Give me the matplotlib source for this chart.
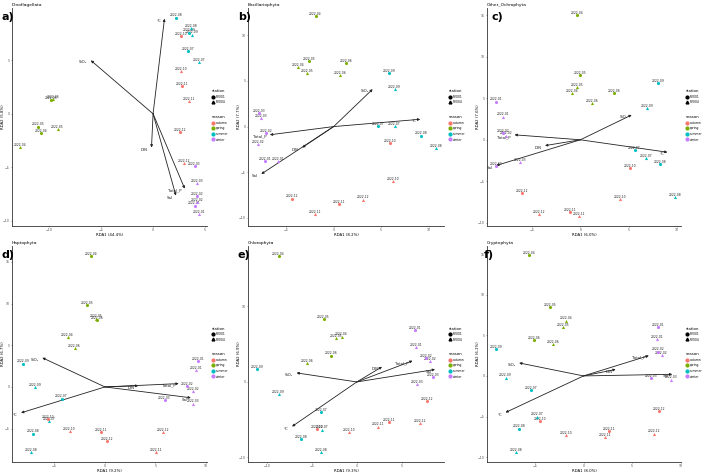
import matplotlib
matplotlib.use("Agg")
import matplotlib.pyplot as plt
from matplotlib.lines import Line2D

# samples: 12 months x 2 stations (RV001, RV004)
sample_labels = ["2022-01", "2022-01", "2022-02", "2022-02", "2022-03", "2022-03",
                 "2022-04", "2022-04", "2022-05", "2022-05", "2022-06", "2022-06",
                 "2022-07", "2022-07", "2022-08", "2022-08", "2022-09", "2022-09",
                 "2022-10", "2022-10", "2022-11", "2022-11", "2022-12", "2022-12"]
stations = ["RV001", "RV004"] * 12
seasons = ["winter"] * 6 + ["spring"] * 6 + ["summer"] * 6 + ["autumn"] * 6

season_names = ["autumn", "spring", "summer", "winter"]
season_colors = {"autumn": "#F8766D", "spring": "#7CAE00",
                 "summer": "#00BFC4", "winter": "#C77CFF"}
station_markers = {"RV001": "o", "RV004": "^"}

env_vars = ["°C", "SiO₂", "DIN", "Total_P", "Sal"]

# site scores
dino_x = [4.0, 4.4, 4.2, 4.2, 4.0, 4.2, -10.8, -12.8, -11.1, -9.2, -9.8, -9.6,
          3.4, 4.4, 2.2, 3.7, 3.5, 3.75, 2.7, 2.7, 2.8, 3.5, 2.6, 3.0]
dino_y = [-8.6, -9.4, -7.7, -8.3, -4.9, -6.5, -1.8, -3.1, -1.2, -1.45, 1.3, 1.35,
          5.9, 4.8, 9.0, 8.0, 7.6, 7.4, 7.25, 4.0, 2.6, 1.2, -1.7, -4.6]
bacil_x = [-7.2, -5.8, -7.1, -7.9, -7.8, -7.6, -1.9, -3.7, -2.6, -2.8, 1.3, 0.7,
           4.65, 6.4, 9.2, 10.8, 5.8, 6.4, 5.9, 6.2, 0.6, -2.0, -4.4, 3.1]
bacil_y = [-3.8, -3.8, -0.7, -1.9, 1.45, 0.9, 12.1, 6.5, 7.2, 5.9, 7.0, 5.6,
           0.07, 0.07, -1.0, -2.4, 5.9, 4.1, -1.8, -6.0, -8.5, -9.6, -7.9, -8.0]
ochro_x = [-8.7, -8.0, -8.0, -7.7, -8.7, -6.25, -0.3, -0.9, 0.0, -0.35, 3.5, 1.2,
           5.6, 6.8, 8.2, 9.8, 8.0, 6.9, 5.1, 4.1, -1.1, -0.1, -6.0, -4.3]
ochro_y = [4.6, 2.8, 0.8, 0.5, -3.2, -2.7, 15.0, 5.6, 7.8, 6.4, 5.6, 4.4,
           -1.2, -2.2, -2.9, -6.9, 6.8, 3.8, -3.4, -7.2, -8.7, -9.2, -6.4, -9.0]
hapto_x = [9.2, 9.05, 8.1, 8.75, 5.9, 8.7, -1.4, -3.7, -1.8, -0.9, -0.75, -3.0,
           -4.3, -5.5, -7.1, -7.35, -8.1, -6.9, -5.6, -3.5, -0.4, 5.1, 0.2, 5.7]
hapto_y = [3.1, 2.0, 0.1, -0.5, -1.6, -2.0, 15.7, 6.0, 9.8, 8.2, 8.0, 4.7,
           -1.4, -4.1, -5.6, -7.8, 2.8, 0.0, -3.9, -5.3, -5.4, -7.8, -6.5, -5.4]
chloro_x = [6.5, 6.6, 7.7, 8.1, 8.5, 6.7, -8.7, -1.7, -3.7, -2.3, -2.9, -5.5,
            -4.0, -3.9, -6.2, -4.0, -11.1, -8.7, -4.4, -0.9, 3.6, 2.4, 7.8, 7.0]
chloro_y = [6.9, 4.6, 3.2, 2.8, 0.65, -0.3, 16.7, 6.0, 8.3, 5.8, 3.5, 2.5,
            -4.0, -6.3, -7.6, -9.3, 1.7, -1.65, -6.2, -6.65, -5.35, -5.9, -2.5, -5.5]
crypto_x = [7.6, 7.5, 7.65, 8.0, 6.9, 9.0, -5.6, -1.8, -3.4, -2.1, -5.1, -3.1,
            -5.4, -4.8, -6.6, -6.9, -9.0, -8.0, -4.5, -1.8, 2.6, 2.2, 7.7, 7.2]
crypto_y = [6.0, 4.5, 3.0, 2.6, -0.3, -0.45, 14.9, 6.8, 8.5, 6.0, 4.4, 3.9,
            -1.7, -5.0, -6.5, -9.4, 3.3, -0.2, -5.6, -7.3, -6.8, -7.5, -4.3, -7.1]

# environmental arrows (order of env_vars)
dino_env_x = [1.1, -6.0, -0.15, 3.05, 2.2]
dino_env_y = [8.9, 5.0, -3.15, -7.0, -7.65]
bacil_env_x = [9.1, 4.1, -3.3, -6.7, -7.6]
bacil_env_y = [0.8, 4.1, -2.3, -0.9, -5.2]
ochro_env_x = [9.0, 5.3, -3.65, -6.8, -8.7]
ochro_env_y = [-1.5, 3.0, -0.7, 0.6, -3.1]
hapto_env_x = [-8.3, -6.2, 3.3, 7.3, 8.5]
hapto_env_y = [-3.1, 3.5, 0.15, 0.4, -1.3]
chloro_env_x = [-7.2, -6.7, 2.8, 6.2, 8.7]
chloro_env_y = [-5.9, 1.2, 2.0, 2.8, 1.65]
crypto_env_x = [-8.0, -6.6, 3.3, 6.7, 9.1]
crypto_env_y = [-4.5, 1.6, 0.8, 2.5, 0.2]

titles = ["Dinoflagellata", "Bacillariophyta", "Other_Ochrophyta",
          "Haptophyta", "Chlorophyta", "Cryptophyta"]
letters = ["a)", "b)", "c)", "d)", "e)", "f)"]
xlabels = ["RDA1 (44.4%)", "RDA1 (8.2%)", "RDA1 (6.0%)",
           "RDA1 (9.2%)", "RDA1 (9.3%)", "RDA1 (8.0%)"]
ylabels = ["RDA2 (5.8%)", "RDA2 (7.7%)", "RDA2 (7.6%)",
           "RDA2 (6.7%)", "RDA2 (6.9%)", "RDA2 (6.1%)"]

W, H = 709, 473
fig = plt.figure(figsize=(W / 100, H / 100), dpi=100)


def px_axes(left, top, right, bottom):
    return fig.add_axes([left / W, 1 - bottom / H, (right - left) / W, (bottom - top) / H])


def draw_panel(ax, xs, ys, ex, ey, xlim, ylim, xticks, yticks, title, xlabel, ylabel):
    for x, y, lab, st, se in zip(xs, ys, sample_labels, stations, seasons):
        ax.annotate(lab, (x, y), xytext=(0, 1.6), textcoords="offset points",
                    ha="center", va="center", fontsize=2.2, color="#222222", zorder=3)
        ax.scatter(x, y, s=5, marker=station_markers[st], color=season_colors[se],
                   linewidths=0, zorder=4)
    for name, x, y in zip(env_vars, ex, ey):
        ax.annotate("", xy=(x, y), xytext=(0, 0),
                    arrowprops=dict(arrowstyle="-|>", lw=0.6, color="#222222",
                                    mutation_scale=3.5, shrinkA=0, shrinkB=0), zorder=2)
        ax.annotate(name, (x, y), xytext=(-2.5, -1.5), textcoords="offset points",
                    ha="right", va="center", fontsize=2.8, color="#222222")
    ax.set_xlim(xlim)
    ax.set_ylim(ylim)
    ax.set_xticks(xticks)
    ax.set_yticks(yticks)
    ax.tick_params(labelsize=2.3, length=1.0, width=0.4, pad=0.5, colors="#555555")
    for s in ["top", "right"]:
        ax.spines[s].set_visible(False)
    for s in ["left", "bottom"]:
        ax.spines[s].set_linewidth(0.6)
        ax.spines[s].set_color("#333333")
    ax.set_xlabel(xlabel, fontsize=2.8)
    ax.set_ylabel(ylabel, fontsize=2.8)
    bb = ax.get_position()
    ax.xaxis.set_label_coords(0.5, -6.5 / (bb.height * H))
    ax.yaxis.set_label_coords(-7.0 / (bb.width * W), 0.5)
    ax.set_title(title, fontsize=3.2, loc="left", pad=1.5)

    st_handles = [Line2D([], [], ls="", marker=station_markers[k], color="black",
                         markersize=2) for k in ["RV001", "RV004"]]
    leg1 = ax.legend(st_handles, ["RV001", "RV004"], title="station", loc="upper left",
                     bbox_to_anchor=(1.01, 0.64), frameon=False, fontsize=2.2,
                     title_fontsize=2.8, alignment="left", handlelength=1,
                     handletextpad=0.4, labelspacing=0.5)
    ax.add_artist(leg1)
    se_handles = [Line2D([], [], ls="", marker="o", color=season_colors[k],
                         markersize=2) for k in season_names]
    ax.legend(se_handles, season_names, title="season", loc="upper left",
              bbox_to_anchor=(1.01, 0.52), frameon=False, fontsize=2.2,
              title_fontsize=2.8, alignment="left", handlelength=1,
              handletextpad=0.4, labelspacing=0.5)


col_left = [12, 248, 487]
col_right = [207, 444, 681]
row_top = [8, 246]
row_bottom = [226, 462]

panel_data = [
    (dino_x, dino_y, dino_env_x, dino_env_y, (-13.6, 5.2), (-10.5, 9.9), [-10, -5, 0, 5], [-10, -5, 0, 5]),
    (bacil_x, bacil_y, bacil_env_x, bacil_env_y, (-9.0, 11.6), (-10.9, 13.0), [-5, 0, 5, 10], [-10, -5, 0, 5, 10]),
    (ochro_x, ochro_y, ochro_env_x, ochro_env_y, (-9.65, 10.4), (-10.4, 15.9), [-5, 0, 5, 10], [-10, -5, 0, 5, 10, 15]),
    (hapto_x, hapto_y, hapto_env_x, hapto_env_y, (-9.2, 10.1), (-9.0, 16.9), [-5, 0, 5, 10], [-5, 0, 5, 10, 15]),
    (chloro_x, chloro_y, chloro_env_x, chloro_env_y, (-12.1, 9.7), (-10.6, 18.0), [-10, -5, 0, 5], [-10, 0, 10]),
    (crypto_x, crypto_y, crypto_env_x, crypto_env_y, (-9.9, 10.0), (-10.6, 16.0), [-5, 0, 5, 10], [-10, -5, 0, 5, 10, 15]),
]

letter_pos = [(2, 17), (238, 17), (492, 17), (2, 255), (238, 255), (484, 255)]

for i, pdata in enumerate(panel_data):
    r, c = divmod(i, 3)
    ax = px_axes(col_left[c], row_top[r], col_right[c], row_bottom[r])
    xs, ys, ex, ey, xlim, ylim, xt, yt = pdata
    draw_panel(ax, xs, ys, ex, ey, xlim, ylim, xt, yt, titles[i], xlabels[i], ylabels[i])
    lx, ly = letter_pos[i]
    fig.text(lx / W, 1 - ly / H, letters[i], fontsize=8, fontweight="bold",
             ha="left", va="center")

fig.savefig("out.png", dpi=100)
